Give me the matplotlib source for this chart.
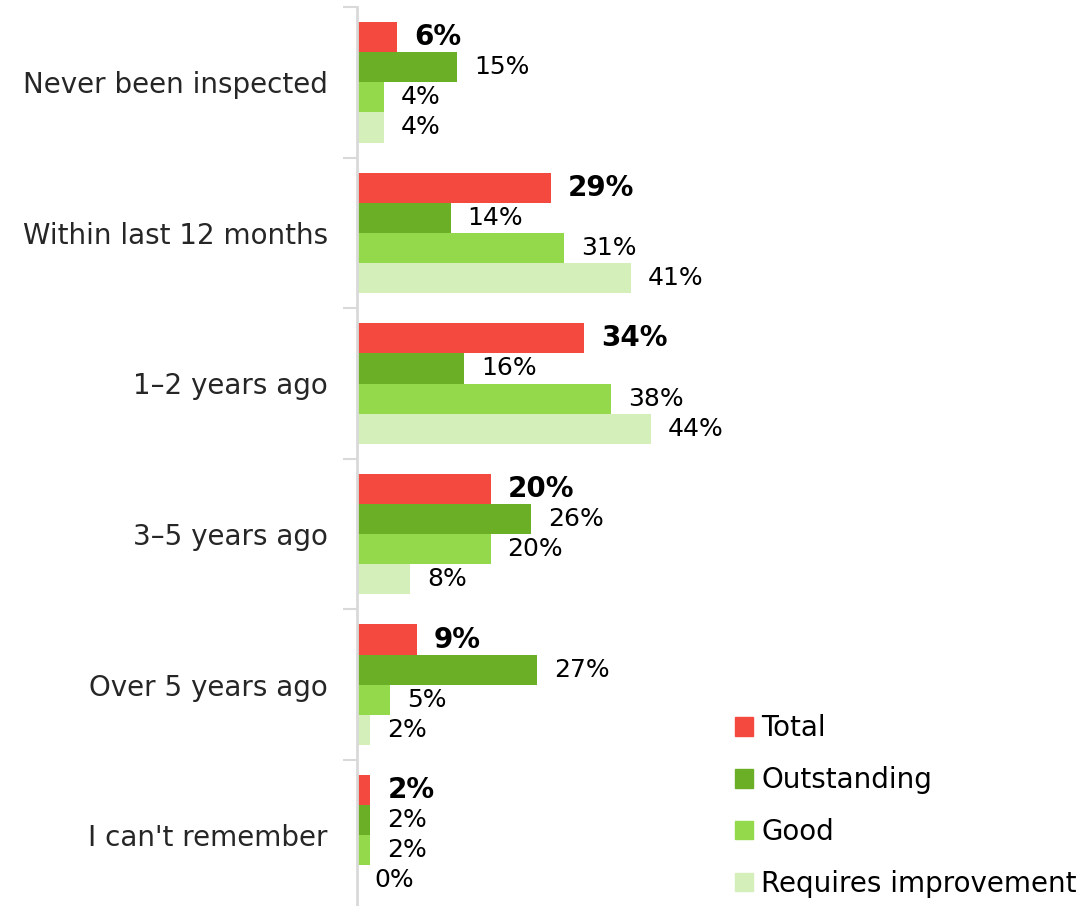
import matplotlib.pyplot as plt
from matplotlib.patches import Patch

categories = ["Never been inspected", "Within last 12 months", "1\u20132 years ago",
              "3\u20135 years ago", "Over 5 years ago", "I can't remember"]
series_names = ["Total", "Outstanding", "Good", "Requires improvement"]
total = [6, 29, 34, 20, 9, 2]
outstanding = [15, 14, 16, 26, 27, 2]
good = [4, 31, 38, 20, 5, 2]
requires_improvement = [4, 41, 44, 8, 2, 0]

colors = ["#F4493F", "#6BAF26", "#93D94B", "#D5EFBA"]

W, H = 1084, 906
fig = plt.figure(figsize=(W / 100, H / 100), dpi=100)

# plot area: y axis at x=357px, top at 7px, each group ~150.6px tall
left_px, top_px, group_px = 357, 7, 150.6
px_per_pct = 6.68
ax_w = W - left_px
ax_h = 6 * group_px
ax = fig.add_axes([left_px / W, (H - top_px - ax_h) / H, ax_w / W, ax_h / H])
ax.set_xlim(0, ax_w / px_per_pct)
ax.set_ylim(5.5, -0.5)

all_series = [total, outstanding, good, requires_improvement]
bar_h = 0.2
offsets = [-0.3, -0.1, 0.1, 0.3]
label_pad = 17 / px_per_pct

for s, (vals, name, col, off) in enumerate(zip(all_series, series_names, colors, offsets)):
    ys = [i + off for i in range(len(categories))]
    ax.barh(ys, vals, height=bar_h, color=col, label=name)
    for y, v in zip(ys, vals):
        if s == 0:
            ax.text(v + label_pad, y, f"{v}%", va="center", ha="left",
                    fontsize=20, fontweight="bold", color="black")
        else:
            ax.text(v + label_pad, y, f"{v}%", va="center", ha="left",
                    fontsize=18, color="black")

# category labels
ax.set_yticks(range(len(categories)))
ax.set_yticklabels(categories, fontsize=20, color="#262626")
ax.tick_params(axis="y", which="major", length=0, pad=21)
ax.set_yticks([i - 0.5 for i in range(len(categories) + 1)], minor=True)
ax.tick_params(axis="y", which="minor", length=10, width=1.5, color="#D9D9D9")
ax.set_xticks([])

for sp in ["top", "right", "bottom"]:
    ax.spines[sp].set_visible(False)
ax.spines["left"].set_color("#D9D9D9")
ax.spines["left"].set_linewidth(2)

handles = [Patch(color=c) for c in colors]
fig.legend(handles, series_names, loc="upper left",
           bbox_to_anchor=(724 / W, 1 - 703 / H), frameon=False,
           fontsize=20, handlelength=0.65, handleheight=0.65,
           handletextpad=0.3, labelspacing=0.86, borderaxespad=0)

fig.savefig("out.png", dpi=100)
